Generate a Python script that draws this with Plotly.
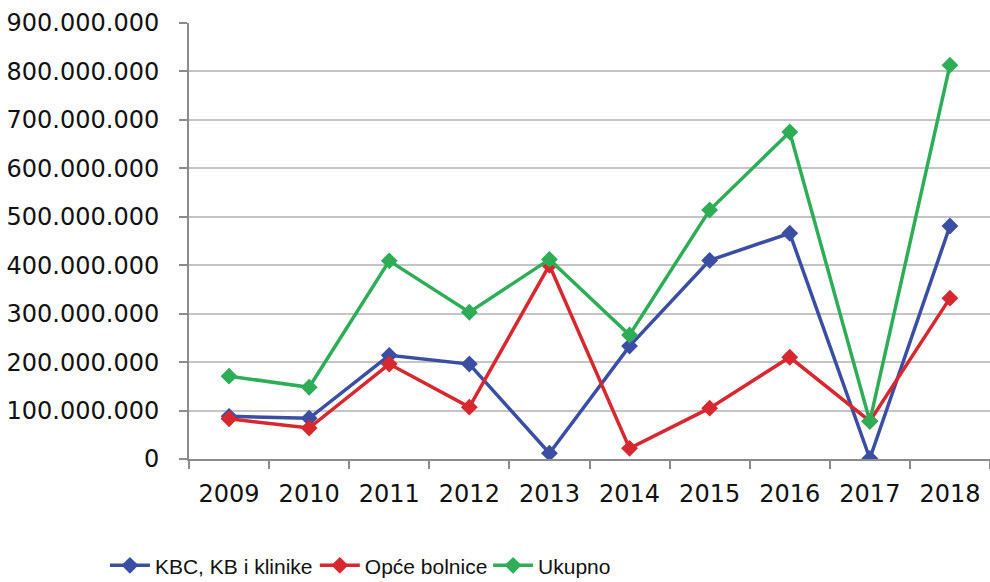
import plotly.graph_objects as go

years = ["2009", "2010", "2011", "2012", "2013", "2014", "2015", "2016", "2017", "2018"]
kbc = [88e6, 84e6, 214e6, 196e6, 12e6, 233e6, 410e6, 466e6, 1e6, 481e6]
opce = [83e6, 64e6, 196e6, 107e6, 400e6, 22e6, 105e6, 210e6, 78e6, 332e6]
ukupno = [171e6, 148e6, 409e6, 303e6, 412e6, 256e6, 514e6, 675e6, 78e6, 813e6]

series = [
    ("KBC, KB i klinike", kbc, "#3a4fa3", "legend", 0.106),
    ("Opće bolnice", opce, "#d7282f", "legend2", 0.318),
    ("Ukupno", ukupno, "#2ead57", "legend3", 0.493),
]

fig = go.Figure()
legends = {}
for name, vals, color, leg, lx in series:
    fig.add_trace(
        go.Scatter(
            x=years,
            y=vals,
            name=name,
            mode="lines+markers",
            line=dict(color=color, width=3.5),
            marker=dict(symbol="diamond", size=13, color=color),
            legend=leg,
            showlegend=True,
        )
    )
    legends[leg] = dict(
        orientation="h",
        xref="container",
        yref="container",
        x=lx,
        xanchor="left",
        y=0.028,
        yanchor="middle",
        font=dict(family="Liberation Sans", size=21),
        itemwidth=40,
    )

fig.update_layout(
    width=990,
    height=582,
    margin=dict(l=189, r=0, t=23, b=123),
    paper_bgcolor="white",
    plot_bgcolor="white",
    separators=",.",
    showlegend=True,
    font=dict(family="DejaVu Sans", size=24, color="#111"),
    xaxis=dict(
        type="category",
        range=[-0.5, 9.5],
        automargin=False,
        showgrid=False,
        showline=True,
        linecolor="#8c8c8c",
        linewidth=2,
        ticks="outside",
        tickson="boundaries",
        ticklen=8,
        tickwidth=2,
        tickcolor="#8c8c8c",
        ticklabelstandoff=12,
        tickfont=dict(size=24),
    ),
    yaxis=dict(
        range=[0, 900e6],
        dtick=100e6,
        tickformat=",d",
        automargin=False,
        showgrid=True,
        gridcolor="#c4c4c4",
        gridwidth=2,
        zeroline=False,
        showline=True,
        linecolor="#8c8c8c",
        linewidth=2,
        ticks="outside",
        ticklen=8,
        tickwidth=2,
        tickcolor="#8c8c8c",
        ticklabelstandoff=15,
        tickfont=dict(size=24),
    ),
    **legends,
)

# drop the default body margin so the figure sits at the top-left corner
fig.write_html(
    "out.html",
    config={"displayModeBar": False},
    post_script="document.body.style.margin='0';",
)
